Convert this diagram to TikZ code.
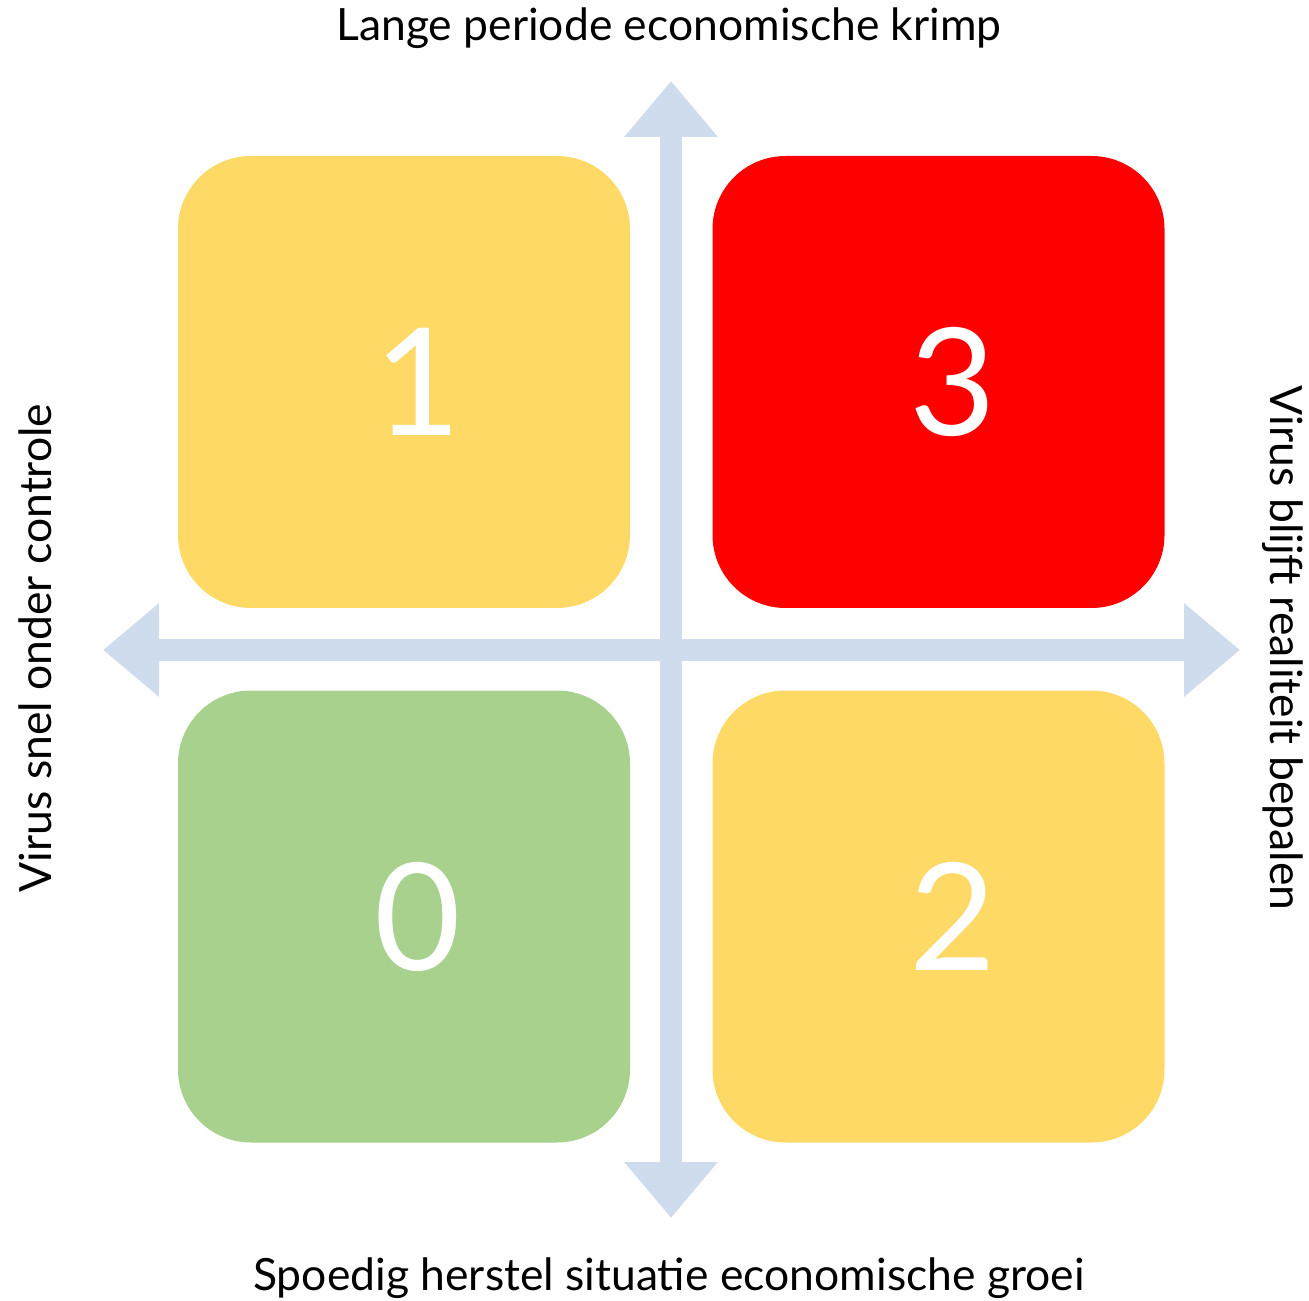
\documentclass[tikz,border=0pt]{standalone}
\usepackage{fontspec}
\setmainfont{Lato}
\usepackage{tikz}
\usetikzlibrary{arrows.meta}

\definecolor{boxyellow}{HTML}{FED966}
\definecolor{boxred}{HTML}{FF0000}
\definecolor{boxgreen}{HTML}{A9D18E}
\definecolor{axisblue}{HTML}{CFDCEE}

\begin{document}
\begin{tikzpicture}[
    axis/.style={draw=axisblue, line width=0.44cm,
        {Triangle[length=1.12cm, width=1.8cm]}-{Triangle[length=1.12cm, width=1.8cm]}},
    quadrant/.style={rounded corners=1.46cm, minimum size=9.04cm, inner sep=0pt},
    digit/.style={text=white, font=\fontsize{85pt}{88pt}\selectfont, xshift=0.28cm},
    label/.style={font=\fontsize{25.3pt}{30pt}\selectfont}
]

    % Frame
    \useasboundingbox (0, 0) rectangle (26.18, -26.02);

    % Axes
    \coordinate (north) at (13.42, -1.62);
    \coordinate (south) at (13.42, -24.36);
    \coordinate (west) at (2.06, -13.0);
    \coordinate (east) at (24.8, -13.0);
    \draw[axis] (south) -- (north);
    \draw[axis] (west) -- (east);

    % Quadrants
    \node[quadrant, fill=boxyellow] (q1) at (8.08, -7.64) {};
    \node[quadrant, fill=boxred] (q3) at (18.77, -7.64) {};
    \node[quadrant, fill=boxgreen] (q0) at (8.08, -18.33) {};
    \node[quadrant, fill=boxyellow] (q2) at (18.77, -18.33) {};
    \node[digit] (n1) at (q1.center) {1};
    \node[digit] (n3) at (q3.center) {3};
    \node[digit] (n0) at (q0.center) {0};
    \node[digit] (n2) at (q2.center) {2};

    % Axis labels
    \node[label] (top) at (13.38, -0.56) {Lange periode economische krimp};
    \node[label] (bottom) at (13.38, -25.56) {Spoedig herstel situatie economische groei};
    \node[label, rotate=90] (left) at (0.7, -12.96) {Virus snel onder controle};
    \node[label, rotate=-90] (right) at (25.66, -12.96) {Virus blijft realiteit bepalen};

\end{tikzpicture}
\end{document}
